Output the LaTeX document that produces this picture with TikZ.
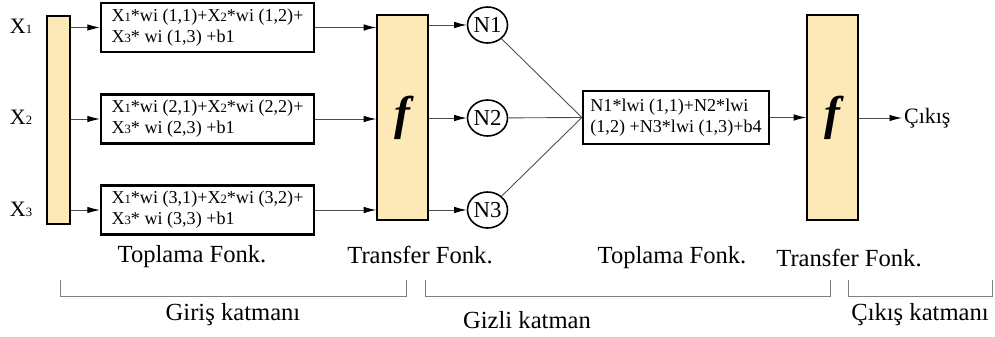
\documentclass[tikz,border=0pt]{standalone}
\usepackage{fontspec}
\setmainfont{Liberation Serif}
\usetikzlibrary{arrows.meta,calc,shapes.geometric}
\definecolor{barfill}{RGB}{253,232,184}
\newcommand{\lo}[1]{{\fontsize{7.2}{8}\selectfont #1}}
\newcommand{\fx}{{\fontsize{27}{28}\selectfont\bfseries\itshape f}}

\begin{document}
\begin{tikzpicture}[x=1cm,y=1cm,font=\fontsize{10.3}{11.8}\selectfont,
 bar/.style={draw,line width=.9pt,fill=barfill,minimum width=#1,minimum height=4.1cm,inner sep=0pt},
 sumbox/.style={draw,line width=1.3pt,align=left,minimum width=4.26cm,minimum height=.98cm,inner sep=2pt},
 neuron/.style={draw,ellipse,line width=.9pt,minimum width=.8cm,minimum height=.72cm,inner sep=-1.5pt,font=\fontsize{13}{14}\selectfont},
 link/.style={gray!60!black,line width=.5pt},
 arr/.style={link,-{Latex[black,length=2.5mm,width=1.3mm]}},
 caption/.style={font=\fontsize{14}{16}\selectfont},
 big/.style={font=\fontsize{12.5}{14}\selectfont}]
 \useasboundingbox (0,0) rectangle (19.9,6.72);
 % inputs
 \node[big] (x1) at (.42,6.2) {X\lo1};
 \node[big] (x2) at (.42,4.38) {X\lo2};
 \node[big] (x3) at (.42,2.54) {X\lo3};
 \node[bar=.46cm,minimum height=4.16cm] (in) at (1.17,4.32) {};
 % summation boxes
 \node[sumbox] (s1) at (4.15,6.17) {X\lo1*wi (1,1)+X\lo2*wi (1,2)+\\X\lo3* wi (1,3) +b1};
 \node[sumbox] (s2) at (4.15,4.34) {X\lo1*wi (2,1)+X\lo2*wi (2,2)+\\X\lo3* wi (2,3) +b1};
 \node[sumbox] (s3) at (4.15,2.52) {X\lo1*wi (3,1)+X\lo2*wi (3,2)+\\X\lo3* wi (3,3) +b1};
 \node[bar=1.02cm] (f1) at (8.05,4.37) {\fx};
 \foreach \i in {1,2,3}{
  \draw[arr] (s\i.west -| in.east) -- (s\i.west);
  \draw[arr] (s\i.east) -- (s\i.east -| f1.west);
 }
 % hidden layer
 \node[neuron] (n1) at (9.75,6.22) {N1};
 \node[neuron] (n2) at (9.75,4.36) {N2};
 \node[neuron] (n3) at (9.75,2.52) {N3};
 \node[sumbox,minimum width=3.72cm,minimum height=1.06cm] (t) at (13.52,4.37) {N1*lwi (1,1)+N2*lwi\\(1,2) +N3*lwi (1,3)+b4};
 \foreach \i in {1,2,3}{
  \draw[arr] (n\i.west -| f1.east) -- (n\i.west);
  \draw[link] (n\i) -- (t.west);
 }
 % output
 \node[bar=1.02cm] (f2) at (16.65,4.37) {\fx};
 \node[big,anchor=west,inner sep=1pt] (out) at (18.04,4.36) {Çıkış};
 \draw[arr] (t.east) -- (t.east -| f2.west);
 \draw[arr] (out.west -| f2.east) -- (out.west);
 % captions
 \node[caption] (c1) at (3.84,1.58) {Toplama Fonk.};
 \node[caption] (c2) at (8.40,1.62) {Transfer Fonk.};
 \node[caption] (c3) at (13.44,1.56) {Toplama Fonk.};
 \node[caption] (c4) at (16.98,1.56) {Transfer Fonk.};
 \draw[gray] (1.2,1.12) |- (8.12,.8) -- (8.12,1.12);
 \draw[gray] (8.5,1.12) |- (16.6,.8) -- (16.6,1.12);
 \draw[gray] (16.96,1.12) |- (19.84,.8) -- (19.84,1.12);
 \node[caption] (l1) at (4.66,.42) {Giriş katmanı};
 \node[caption] (l2) at (10.54,.32) {Gizli katman};
 \node[caption] (l3) at (18.40,.42) {Çıkış katmanı};
\end{tikzpicture}
\end{document}
